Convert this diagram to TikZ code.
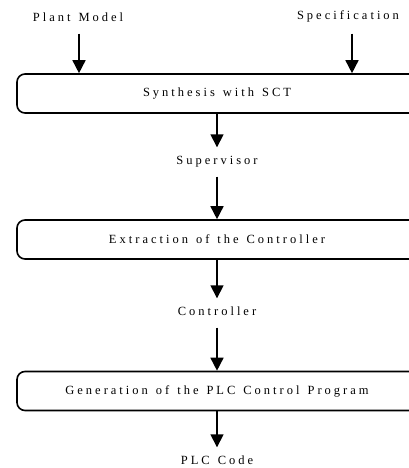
\documentclass[tikz,border=0pt]{standalone}
\usepackage{fontspec}
\setmainfont{Liberation Serif}[LetterSpace=24,WordSpace=1.3]
\usetikzlibrary{positioning}
\usetikzlibrary{arrows.meta}

\tikzset{
  stage/.style={draw,line width=1.6pt,rounded corners=8pt,minimum width=400pt,minimum height=39pt,inner sep=0pt,font=\fontsize{12.5}{15}\selectfont},
  data/.style={inner xsep=2pt,inner ysep=9pt,text height=8.5pt,text depth=2.5pt,font=\fontsize{12.5}{15}\selectfont},
  flow/.style={line width=1.6pt,-{Triangle[width=13pt,length=13pt]}}
}

\begin{document}
\begin{tikzpicture}[x=1pt,y=1pt]
 \useasboundingbox (0,0) rectangle (409,468);
 % inputs
 \node[data] (plant) at (78,449) {Plant Model};
 \node[data] (spec) at (348,451) {Specification};
 % stages and their results
 \node[stage] (synth) at (217,374.5) {Synthesis with SCT};
 \node[data] (sup) at (217,306) {Supervisor};
 \node[stage] (extr) at (217,228.5) {Extraction of the Controller};
 \node[data] (ctrl) at (217,155) {Controller};
 \node[stage] (gen) at (217,77) {Generation of the PLC Control Program};
 \node[data] (code) at (217,6) {PLC Code};
 \draw[flow] ([xshift=1pt]plant.south) -- ([xshift=1pt]plant.south |- synth.north);
 \draw[flow] ([xshift=4pt,yshift=-2pt]spec.south) -- ([xshift=4pt]spec.south |- synth.north);
 \draw[flow] (synth) -- (sup);
 \draw[flow] (sup) -- (extr);
 \draw[flow] (extr) -- (ctrl);
 \draw[flow] (ctrl) -- (gen);
 \draw[flow] (gen) -- (code);
\end{tikzpicture}
\end{document}
